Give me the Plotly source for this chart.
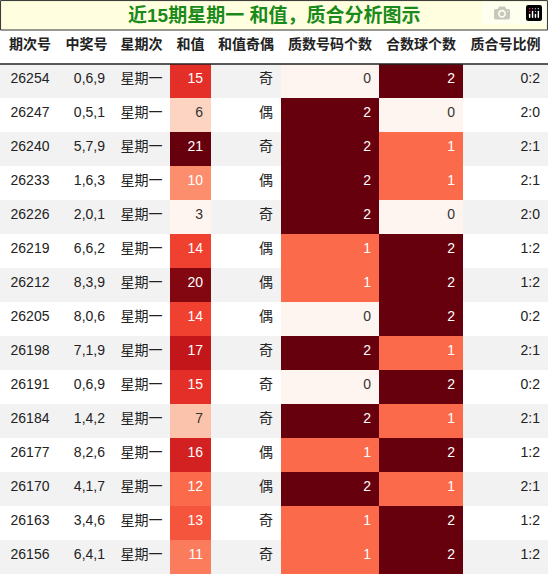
import plotly.graph_objects as go
from plotly.colors import sample_colorscale

issues = ["26254","26247","26240","26233","26226","26219","26212","26205","26198","26191","26184","26177","26170","26163","26156"]
numbers = ["0,6,9","0,5,1","5,7,9","1,6,3","2,0,1","6,6,2","8,3,9","8,0,6","7,1,9","0,6,9","1,4,2","8,2,6","4,1,7","3,4,6","6,4,1"]
weekday = ["星期一"]*15
sums = [15,6,21,10,3,14,20,14,17,15,7,16,12,13,11]
parity = ["奇","偶","奇","偶","奇","偶","偶","偶","奇","奇","奇","偶","偶","奇","奇"]
primes = [0,2,2,2,2,1,1,0,2,0,2,1,2,1,1]
composites = [2,0,1,1,0,2,2,2,1,2,1,2,1,2,2]
ratio = [f"{p}:{c}" for p, c in zip(primes, composites)]
headers = ["期次号","中奖号","星期次","和值","和值奇偶","质数号码个数","合数球个数","质合号比例"]
title = "近15期星期一 和值，质合分析图示"

def heat(vals, lo, hi):
    t = [(v - lo) / (hi - lo) for v in vals]
    return sample_colorscale("Reds", t), ["white" if x > 0.3 else "#333" for x in t]

band = ["#f2f2f2" if i % 2 == 0 else "white" for i in range(15)]
sc, st = heat(sums, min(sums), max(sums))
pc, pt = heat(primes, 0, 2)
cc, ct = heat(composites, 0, 2)
dark = ["#222"]*15
fills = [band, band, band, sc, band, pc, cc, band]
fonts = [dark, dark, dark, st, dark, pt, ct, dark]
FONT = "Liberation Sans, Noto Sans CJK SC"

fig = go.Figure(go.Table(
    domain=dict(x=[0, 1], y=[0, 1 - 30/576]),
    columnwidth=[60, 53, 57, 41, 70, 98, 84, 85],
    header=dict(values=headers, height=34, fill_color="white",
                line=dict(color="white", width=0), align="center",
                font=dict(family=FONT, size=14, color="#222", weight="bold")),
    cells=dict(values=[issues, numbers, weekday, sums, parity, primes, composites, ratio],
               height=34, fill_color=fills, line=dict(color=fills, width=0),
               align=["center", "right", "center", "right", "right", "right", "right", "right"],
               font=dict(family=FONT, size=14, color=fonts)),
))
fig.add_shape(type="rect", xref="paper", yref="paper", x0=0.001, x1=0.999,
              y0=1 - 30/576, y1=0.999, fillcolor="#ffffe0", line=dict(color="#333", width=1))
fig.add_shape(type="line", xref="paper", yref="paper", x0=0, x1=1,
              y0=1 - 64/576, y1=1 - 64/576, line=dict(color="#222", width=1.5))
fig.add_annotation(text=title, xref="paper", yref="paper", x=0.5, y=1 - 15/576, yanchor="middle",
                   showarrow=False, font=dict(family=FONT, size=19, color="#1a8a1a", weight="bold"))
fig.update_layout(width=548, height=576, margin=dict(l=0, r=0, t=0, b=0), paper_bgcolor="white")
fig.write_html("out.html", post_script="document.body.style.margin='0';document.body.style.overflow='hidden';")
